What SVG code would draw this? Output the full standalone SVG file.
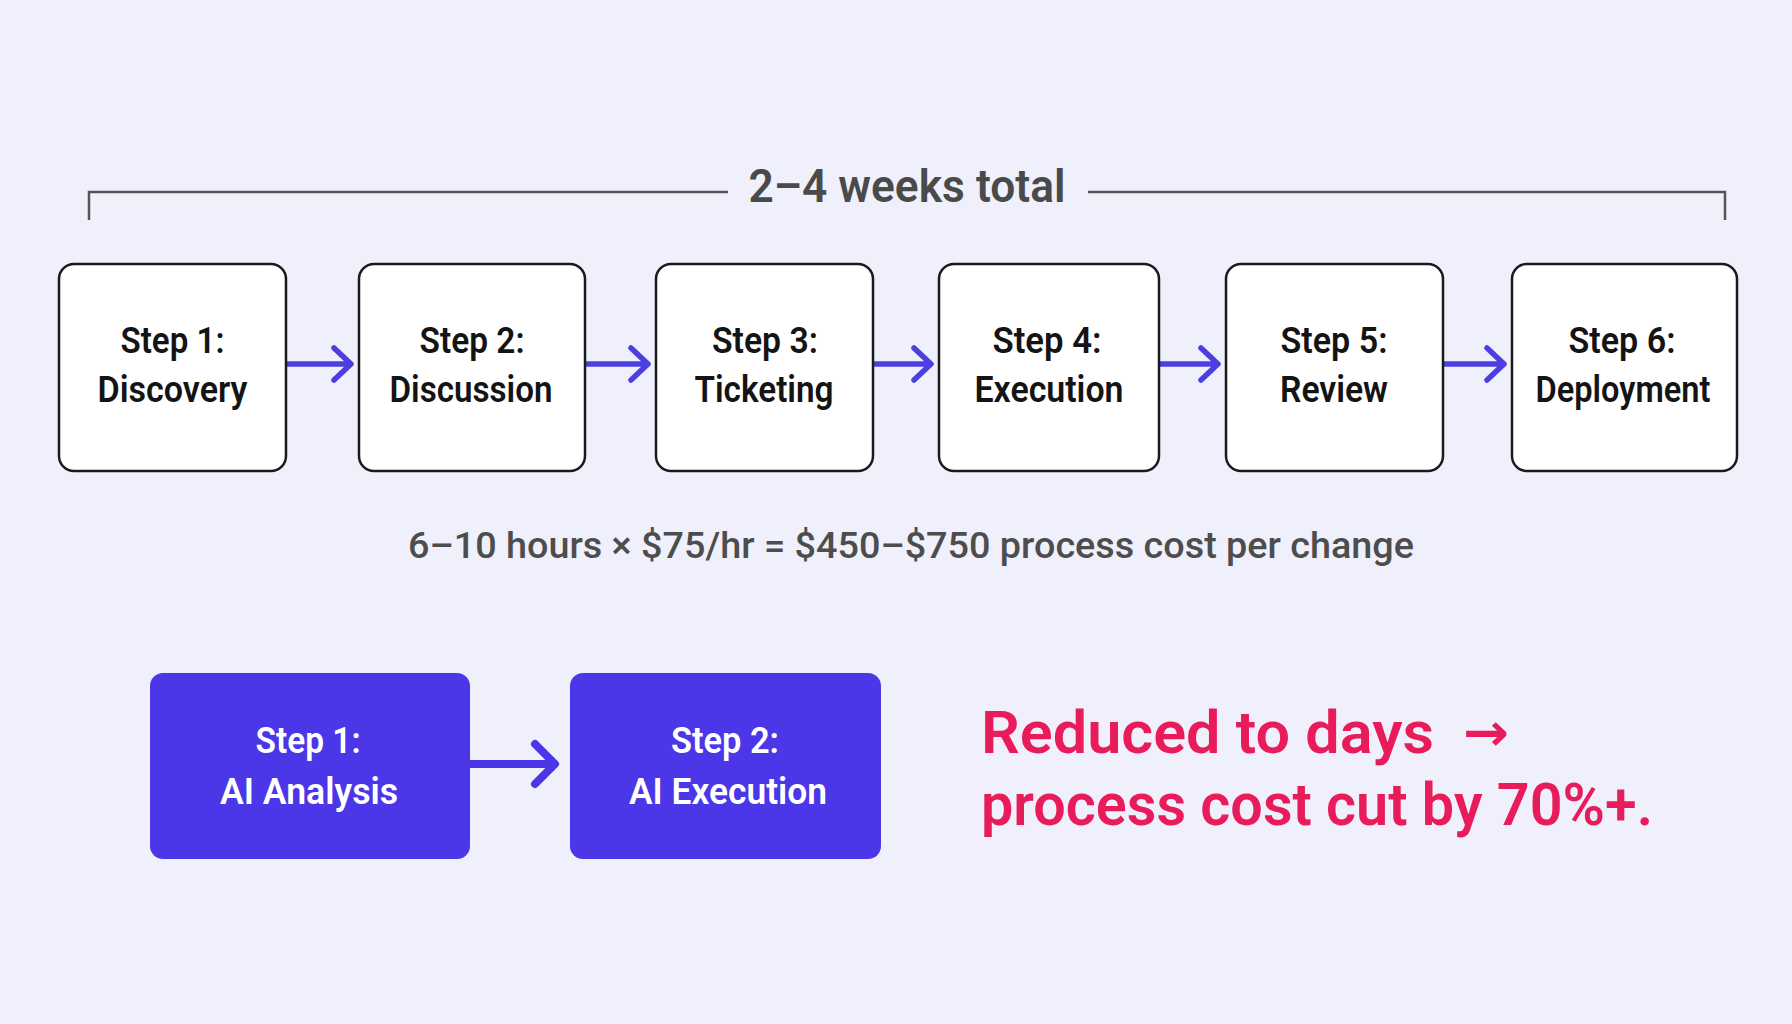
<svg xmlns="http://www.w3.org/2000/svg" width="1792" height="1024" viewBox="0 0 1792 1024">
  <style>
    .bg { fill: #eff0fb; }
    .box { fill: #ffffff; stroke: #1a1a1a; stroke-width: 2.5; }
    .aibox { fill: #4b36e8; }
    .lbl { font-family: Roboto, "Liberation Sans", sans-serif; font-weight: 600; font-size: 36px; fill: #141414; text-anchor: middle; }
    .ailbl { font-family: Roboto, "Liberation Sans", sans-serif; font-weight: 600; font-size: 36px; fill: #ffffff; text-anchor: middle; }
    .title { font-family: Roboto, "Liberation Sans", sans-serif; font-weight: 600; font-size: 47px; fill: #4a4a4a; text-anchor: middle; }
    .cost { font-family: Roboto, "Liberation Sans", sans-serif; font-weight: 500; font-size: 36px; fill: #4d4d4d; text-anchor: middle; }
    .red { font-family: Roboto, "Liberation Sans", sans-serif; font-weight: 600; font-size: 60px; fill: #e81c5a; }
    .redarrow { font-family: "DejaVu Sans", sans-serif; font-weight: 700; font-size: 52px; fill: #e81c5a; }
    .bracket { fill: none; stroke: #555555; stroke-width: 2.5; }
    .arr { fill: none; stroke: #4b3fe0; stroke-width: 5.5; stroke-linecap: round; stroke-linejoin: round; }
    .arrbig { fill: none; stroke: #4b36e8; stroke-width: 8; stroke-linecap: round; stroke-linejoin: round; }
  </style>
  <rect class="bg" x="0" y="0" width="1792" height="1024"/>

  <g id="timeline-bracket">
    <path class="bracket" d="M89 220 V192 H728"/>
    <path class="bracket" d="M1088 192 H1725 V220"/>
    <text class="title" x="907" y="202" textLength="317" lengthAdjust="spacingAndGlyphs">2–4 weeks total</text>
  </g>

  <g id="connectors">
    <path class="arr" d="M286 364 H350 M334 348 L351 364 L334 380"/>
    <path class="arr" d="M585 364 H647 M631 348 L648 364 L631 380"/>
    <path class="arr" d="M873 364 H930 M914 348 L931 364 L914 380"/>
    <path class="arr" d="M1159 364 H1217 M1201 348 L1218 364 L1201 380"/>
    <path class="arr" d="M1443 364 H1503 M1487 348 L1504 364 L1487 380"/>
    <path class="arrbig" d="M470 764 H554 M535 744 L555 764 L535 784"/>
  </g>

  <g id="step1">
    <rect class="box" x="59" y="264" width="227" height="207" rx="15"/>
    <text class="lbl" x="172.5" y="353" textLength="104" lengthAdjust="spacingAndGlyphs">Step 1:</text>
    <text class="lbl" x="172.5" y="402" textLength="150" lengthAdjust="spacingAndGlyphs">Discovery</text>
  </g>
  <g id="step2">
    <rect class="box" x="359" y="264" width="226" height="207" rx="15"/>
    <text class="lbl" x="472" y="353" textLength="105" lengthAdjust="spacingAndGlyphs">Step 2:</text>
    <text class="lbl" x="471" y="402" textLength="163" lengthAdjust="spacingAndGlyphs">Discussion</text>
  </g>
  <g id="step3">
    <rect class="box" x="656" y="264" width="217" height="207" rx="15"/>
    <text class="lbl" x="765" y="353" textLength="106" lengthAdjust="spacingAndGlyphs">Step 3:</text>
    <text class="lbl" x="764" y="402" textLength="139" lengthAdjust="spacingAndGlyphs">Ticketing</text>
  </g>
  <g id="step4">
    <rect class="box" x="939" y="264" width="220" height="207" rx="15"/>
    <text class="lbl" x="1047" y="353" textLength="109" lengthAdjust="spacingAndGlyphs">Step 4:</text>
    <text class="lbl" x="1049" y="402" textLength="149" lengthAdjust="spacingAndGlyphs">Execution</text>
  </g>
  <g id="step5">
    <rect class="box" x="1226" y="264" width="217" height="207" rx="15"/>
    <text class="lbl" x="1334" y="353" textLength="107" lengthAdjust="spacingAndGlyphs">Step 5:</text>
    <text class="lbl" x="1334" y="402" textLength="108" lengthAdjust="spacingAndGlyphs">Review</text>
  </g>
  <g id="step6">
    <rect class="box" x="1512" y="264" width="225" height="207" rx="15"/>
    <text class="lbl" x="1622" y="353" textLength="107" lengthAdjust="spacingAndGlyphs">Step 6:</text>
    <text class="lbl" x="1623" y="402" textLength="175" lengthAdjust="spacingAndGlyphs">Deployment</text>
  </g>

  <g id="cost-note">
    <text class="cost" x="911" y="558" textLength="1006" lengthAdjust="spacingAndGlyphs">6–10 hours × $75/hr = $450–$750 process cost per change</text>
  </g>

  <g id="ai-step1">
    <rect class="aibox" x="150" y="673" width="320" height="186" rx="13"/>
    <text class="ailbl" x="308" y="753" textLength="105" lengthAdjust="spacingAndGlyphs">Step 1:</text>
    <text class="ailbl" x="309" y="804" textLength="178" lengthAdjust="spacingAndGlyphs">AI Analysis</text>
  </g>
  <g id="ai-step2">
    <rect class="aibox" x="570" y="673" width="311" height="186" rx="13"/>
    <text class="ailbl" x="725" y="753" textLength="108" lengthAdjust="spacingAndGlyphs">Step 2:</text>
    <text class="ailbl" x="728" y="804" textLength="198" lengthAdjust="spacingAndGlyphs">AI Execution</text>
  </g>

  <g id="summary">
    <text class="red" x="981" y="753" textLength="453" lengthAdjust="spacingAndGlyphs">Reduced to days</text>
    <text class="redarrow" x="1463" y="750" textLength="46" lengthAdjust="spacingAndGlyphs">→</text>
    <text class="red" x="981" y="825" textLength="672" lengthAdjust="spacingAndGlyphs">process cost cut by 70%+.</text>
  </g>
</svg>
